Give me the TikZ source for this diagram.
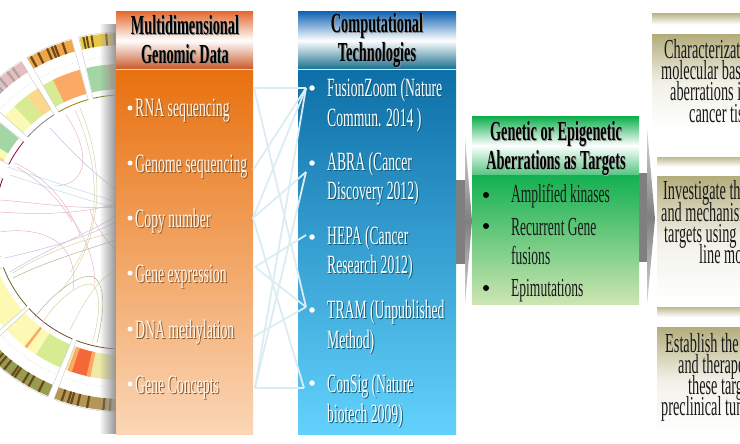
\documentclass[tikz,border=0pt]{standalone}
\usepackage{fontspec}
\usetikzlibrary{fadings}
\newfontfamily\condserif[FakeStretch=0.52]{Liberation Serif}
\definecolor{orangetop}{HTML}{E8710F}
\definecolor{orangelow}{HTML}{FBD6B6}
\definecolor{orangehead}{HTML}{E56C33}
\definecolor{orangefoot}{HTML}{CB5A2A}
\definecolor{bluetop}{HTML}{0D6FA8}
\definecolor{bluelow}{HTML}{62D2FC}
\definecolor{bluehead}{HTML}{1466B6}
\definecolor{bluefoot}{HTML}{1A7090}
\definecolor{greentop}{HTML}{12B050}
\definecolor{greenlow}{HTML}{CDE5B2}
\definecolor{tanbox}{HTML}{B3AD7C}
\definecolor{arrowgrey}{HTML}{7F7F80}
\definecolor{linklight}{HTML}{DCECF3}
\definecolor{chordpink}{HTML}{E8B4C6}
\definecolor{chordlilac}{HTML}{C6BEE0}
\definecolor{chordtan}{HTML}{DAD2A8}
\definecolor{chordblue}{HTML}{B4DCE8}
\definecolor{chordolive}{HTML}{B4B48C}
\definecolor{heatgreen}{HTML}{A2D6A4}
\definecolor{heattan}{HTML}{D2B878}
\definecolor{heatorange}{HTML}{FBAA66}
\definecolor{heatlime}{HTML}{D6EB92}
\definecolor{heatpale}{HTML}{FCF9B4}
\definecolor{heatpeach}{HTML}{FBD88C}
\definecolor{heatred}{HTML}{F4683A}
\definecolor{heatcream}{HTML}{EEE9A6}
\definecolor{bandgold}{HTML}{E8C848}
\definecolor{bandorange}{HTML}{F0A64A}
\definecolor{bandpink}{HTML}{E9BDBD}
\definecolor{bandolive}{HTML}{979C50}
\definecolor{bandbrown}{HTML}{B39658}
\definecolor{banddark}{HTML}{6A4A18}
\tikzfading[name=shadowfade,left color=transparent!100,right color=transparent!0]
\newcommand{\shadowed}[2]{\leavevmode\rlap{\kern1pt\raisebox{-1pt}{\textcolor{#1}{#2}}}#2}
\newcommand{\ringpiece}[5]{\fill[#5] (#1:#3) arc (#1:#2:#3) -- (#2:#4) arc (#2:#1:#4) -- cycle;}
\newcommand{\sectorframe}[3]{%
\draw[black!22,line width=.4pt] (#1:127) -- (#1:190) arc (#1:#2:190) -- (#2:127);
\draw[#3,line width=.8pt] (#1:127) arc (#1:#2:127);
\draw[black!18,line width=.6pt,dotted] (#1:166) arc (#1:#2:166);}
\tikzset{
headtext/.style={inner sep=0pt,align=center,font=\condserif\bfseries\fontsize{27.5}{29}\selectfont},
datatext/.style={inner sep=0pt,anchor=base west,text=orange!8,font=\condserif\fontsize{26.5}{28}\selectfont},
techtext/.style={inner sep=0pt,anchor=west,align=left,text=white,font=\condserif\fontsize{26.3}{29.5}\selectfont},
targettext/.style={inner sep=0pt,anchor=base west,align=left,text=black!90,font=\condserif\fontsize{26}{29}\selectfont},
boxtext/.style={inner sep=0pt,anchor=base west,text height=15pt,text depth=5pt,text=black!90,font=\condserif\fontsize{27.5}{21}\selectfont},
whitedot/.style={circle,fill=white,inner sep=0pt,minimum size=5.5pt},
blackdot/.style={circle,fill=black,inner sep=0pt,minimum size=6pt},
linkline/.style={linklight,line width=1.8pt},
chord/.style={line width=.5pt,#1},
tanstrip/.style={top color=tanbox!85,bottom color=white,middle color=white},
tanbody/.style={top color=tanbox,bottom color=white,middle color=tanbox!18},
arrowhead/.style={top color=arrowgrey!30,bottom color=arrowgrey!30,middle color=arrowgrey},
}
\begin{document}
\begin{tikzpicture}[x=1pt,y=-1pt]
\clip (0,0) rectangle (740,444);
\begin{scope}[shift={(122,222)},x=1pt,y=1pt]
\ringpiece{90}{95}{133}{158}{heattan}
\ringpiece{95}{103}{133}{158}{heatgreen}
\ringpiece{90}{103}{177}{189}{bandgold}
\foreach \a in {92,94.5,99,100.5,101.5} {\ringpiece{\a}{\a+.6}{177}{189}{banddark}}
\ringpiece{105.5}{116}{133}{158}{heatorange}
\ringpiece{116}{120}{133}{158}{heatlime}
\ringpiece{105.5}{120}{177}{189}{bandorange}
\foreach \a in {108,110.5,111.5,113,116,118.5} {\ringpiece{\a}{\a+.7}{177}{189}{banddark}}
\ringpiece{122}{127}{133}{158}{heatpeach}
\ringpiece{127}{133}{133}{158}{heatlime}
\ringpiece{133}{138}{133}{158}{heatpale}
\ringpiece{122}{138}{177}{189}{bandpink}
\foreach \a in {125,127,130,132,133,135.5} {\ringpiece{\a}{\a+.7}{177}{189}{black!35}}
\ringpiece{141}{149}{133}{158}{heatgreen}
\ringpiece{149}{152}{133}{158}{heatpale}
\ringpiece{152}{153}{133}{158}{heatpeach}
\ringpiece{201}{221.5}{133}{158}{heatpale}
\ringpiece{223}{237}{133}{158}{heatpale}
\ringpiece{232}{233}{133}{158}{heatorange}
\ringpiece{237}{247}{133}{158}{heatlime}
\ringpiece{223}{247}{177}{189}{bandolive}
\foreach \a in {224,226,227.5,229,231,234,235,238,240,243.5} {\ringpiece{\a}{\a+.7}{177}{189}{banddark}}
\ringpiece{249}{272}{133}{158}{heatcream}
\ringpiece{250}{258}{133}{158}{heatred}
\ringpiece{250}{251.5}{133}{158}{heatorange}
\ringpiece{257}{258.5}{133}{158}{heatorange}
\ringpiece{249}{272}{177}{189}{bandbrown}
\foreach \a in {251,253,254,256,259,264,266,268,270} {\ringpiece{\a}{\a+.7}{177}{189}{banddark}}
\sectorframe{90}{103.2}{olive!90!black}
\sectorframe{105.4}{120}{olive}
\sectorframe{122.3}{138}{gray}
\sectorframe{140.8}{153}{purple!80!black}
\sectorframe{160}{196}{purple!60!black}
\sectorframe{201}{221.5}{olive!70!black}
\sectorframe{223}{247}{brown!60!black}
\sectorframe{249}{272}{brown!60!black}
\end{scope}
\draw[chord=chordpink] (66,115) .. controls (90,150) and (90,185) .. (55,186);
\draw[chord=chordtan] (75,110) .. controls (103,170) and (100,235) .. (70,272);
\draw[chord=chordtan] (80,108) .. controls (106,170) and (104,240) .. (60,292);
\draw[chord=chordlilac] (50,128) .. controls (70,150) and (90,170) .. (116,190);
\draw[chord=chordblue] (10,175) .. controls (40,185) and (80,198) .. (116,208);
\draw[chord=chordblue] (8,167) .. controls (40,178) and (80,190) .. (116,202);
\draw[chord=chordpink] (15,163) .. controls (40,175) and (65,195) .. (80,235);
\draw[chord=chordpink] (17,167) .. controls (45,185) and (60,200) .. (72,222);
\draw[chord=chordpink] (0,200) .. controls (30,202) and (80,210) .. (116,207);
\draw[chord=chordpink] (0,212) .. controls (40,215) and (80,214) .. (116,204);
\draw[chord=chordpink] (0,232) .. controls (40,226) and (80,240) .. (73,290);
\draw[chord=chordlilac] (10,272) .. controls (45,250) and (85,235) .. (116,216);
\draw[chord=chordolive] (13,278) .. controls (45,262) and (85,250) .. (116,240);
\draw[chord=chordlilac] (5,258) .. controls (40,250) and (80,240) .. (116,222);
\draw[chord=chordtan] (13,273) .. controls (40,255) and (80,240) .. (116,232);
\draw[chord=chordpink] (90,210) .. controls (95,225) and (105,240) .. (116,250);
\draw[chord=chordpink] (67,212) .. controls (85,235) and (95,260) .. (95,285);
\draw[chord=chordolive] (35,317) .. controls (55,290) and (85,270) .. (95,278) .. controls (108,290) and (102,320) .. (97,343);
\draw[chord=chordtan] (43,322) .. controls (60,295) and (85,280) .. (93,285) .. controls (103,295) and (98,325) .. (92,343);
\draw[chord=chordtan] (70,330) .. controls (80,310) and (95,280) .. (116,270);
\fill[black!42,path fading=shadowfade] (99,24) rectangle (116,434);
\fill[arrowgrey] (456,180) rectangle (466,264);
\shade[arrowhead] (465,137) -- (472,221) -- (465,305) -- cycle;
\fill[arrowgrey] (639,173) rectangle (647,262);
\shade[arrowhead] (647,128) -- (655,219) -- (647,305) -- cycle;
\shade[top color=orangetop,bottom color=orangelow] (116,70) rectangle (253,434);
\shade[top color=orangehead,bottom color=orangefoot,middle color=white] (116,12) rectangle (253,69);
\draw[orangelow,line width=.8pt] (116,69.7) -- (253,69.7);
\shade[top color=bluetop,bottom color=bluelow] (298,70) rectangle (456,434);
\shade[top color=bluehead,bottom color=bluefoot,middle color=white] (298,12) rectangle (456,69);
\draw[linklight,line width=.8pt] (298,69.7) -- (456,69.7);
\shade[top color=greentop,bottom color=greenlow] (472,175) rectangle (639,304);
\shade[top color=greentop,bottom color=greentop!70!white,middle color=white] (472,117) rectangle (639,174);
\shade[tanstrip] (652,14) rectangle (740,35);
\shade[tanbody] (652,35) rectangle (740,130);
\shade[tanstrip] (657,157) rectangle (740,176);
\shade[tanbody] (657,176) rectangle (740,302);
\shade[tanstrip] (657,307) rectangle (740,327);
\shade[tanbody] (657,327) rectangle (740,432);
\coordinate (rnaend) at (254,88);
\coordinate (genomeend) at (253,170);
\coordinate (copyend) at (253,218);
\coordinate (exprend) at (255,267);
\coordinate (methylend) at (253,337);
\coordinate (conceptend) at (255,388);
\coordinate (fusionend) at (306,88);
\coordinate (abraend) at (306,172);
\coordinate (hepaend) at (306,235);
\coordinate (tramend) at (306,307);
\coordinate (consigend) at (304,388);
\foreach \from/\to in {rnaend/fusionend,rnaend/tramend,genomeend/fusionend,copyend/fusionend,copyend/abraend,copyend/consigend,exprend/hepaend,exprend/tramend,methylend/tramend,conceptend/fusionend,conceptend/abraend,conceptend/consigend}
  \draw[linkline] (\from) -- (\to);
\node[headtext] (datahead) at (185,40.5) {\shadowed{black!45}{Multidimensional}\\\shadowed{black!45}{Genomic Data}};
\node[headtext] (techhead) at (377,41) {\shadowed{black!45}{Computational}\\\shadowed{black!45}{Technologies}};
\node[headtext] (targethead) at (556,149) {\shadowed{black!35}{Genetic or Epigenetic}\\\shadowed{black!35}{Aberrations as Targets}};
\foreach \name/\yy/\txt in {rna/117/RNA sequencing,genome/172/Genome sequencing,copy/227/Copy number,expr/282/Gene expression,methyl/338/DNA methylation,concept/393/Gene Concepts} {
  \node[whitedot,minimum size=5pt] (\name dot) at (130,\yy-9) {};
  \node[datatext] (\name) at (135,\yy) {\shadowed{brown!70!black}{\txt}};
}
\node[whitedot] (fusiondot) at (312,88) {};
\node[whitedot] (abradot) at (312,163) {};
\node[whitedot] (hepadot) at (312,237) {};
\node[whitedot] (tramdot) at (312,310) {};
\node[whitedot] (consigdot) at (312,383) {};
\node[techtext] (fusion) at (327,105.5) {\shadowed{bluefoot!80!black}{FusionZoom (Nature}\\\shadowed{bluefoot!80!black}{Commun. 2014 )}};
\node[techtext] (abra) at (327,179) {\shadowed{bluefoot!80!black}{ABRA (Cancer}\\\shadowed{bluefoot!80!black}{Discovery 2012)}};
\node[techtext] (hepa) at (327,253) {\shadowed{bluefoot!80!black}{HEPA (Cancer}\\\shadowed{bluefoot!80!black}{Research 2012)}};
\node[techtext] (tram) at (327,327.5) {\shadowed{bluefoot!80!black}{TRAM (Unpublished}\\\shadowed{bluefoot!80!black}{Method)}};
\node[techtext] (consig) at (327,401.5) {\shadowed{bluefoot!80!black}{ConSig (Nature}\\\shadowed{bluefoot!80!black}{biotech 2009)}};
\node[blackdot] (ampdot) at (486,195) {};
\node[blackdot] (recdot) at (486,226) {};
\node[blackdot] (epidot) at (486,288) {};
\node[targettext] (amp) at (511,202) {Amplified kinases};
\node[targettext,anchor=west] (rec) at (511,241.5) {Recurrent Gene\\fusions};
\node[targettext] (epi) at (511,296) {Epimutations};
\node[boxtext] (charline) at (664,59) {Characterizat};
\node[boxtext] (molline) at (661,80) {molecular bas};
\node[boxtext] (aberline) at (670,101) {aberrations i};
\node[boxtext] (cancline) at (689,122) {cancer tis};
\node[boxtext] (invline) at (663,200) {Investigate the};
\node[boxtext] (mechline) at (661,221) {and mechanism};
\node[boxtext] (targline) at (664,242) {targets using c};
\node[boxtext] (moline) at (699,263) {line mo};
\node[boxtext] (estline) at (665,352) {Establish the};
\node[boxtext] (therline) at (678,373) {and therapeu};
\node[boxtext] (theseline) at (688,394) {these targe};
\node[boxtext] (preline) at (661,415) {preclinical tun};
\end{tikzpicture}
\end{document}
